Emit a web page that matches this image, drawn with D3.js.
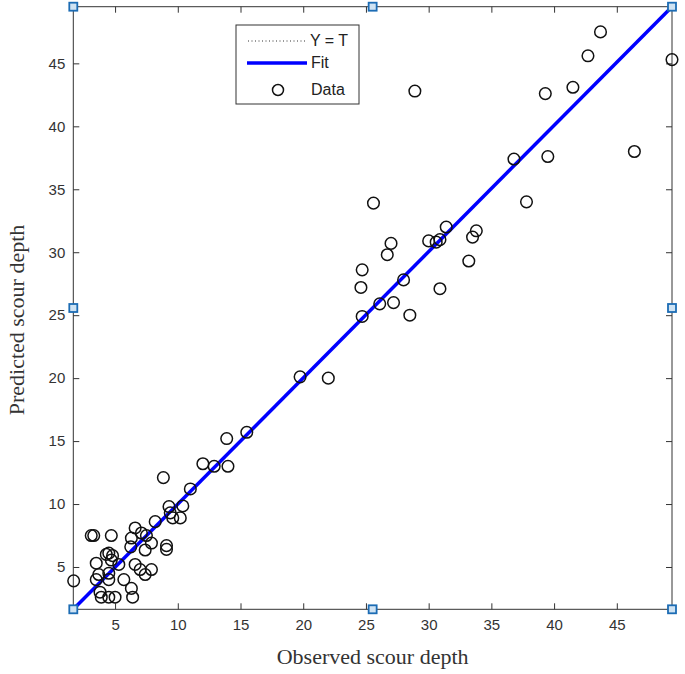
<!DOCTYPE html>
<html>
<head>
<meta charset="utf-8">
<script src="https://cdn.jsdelivr.net/npm/d3@7"></script>
<style>
  body { margin: 0; background: #fff; }
  .tick text { font-family: "Liberation Sans", Arial, sans-serif; font-size: 15px; fill: #333; }
  .tick line { stroke: #333; }
</style>
</head>
<body>
<div id="plot"></div>
<script>
var width = 685;
var height = 674;

// plot frame in pixels
var left = 73.3, right = 672, top_ = 6.7, bottom = 609.3;

// axis limits
var x_domain = [1.67, 49.4];
var y_domain = [1.64, 49.5];
var tick_values = [5, 10, 15, 20, 25, 30, 35, 40, 45];

// observed (T) and predicted (Y) scour depth
var observed = [
  1.7, 3.1, 3.3, 4.7, 3.5, 4.3, 4.8, 4.5, 4.7, 5.3,
  3.5, 3.7, 4.5, 4.5, 5.7, 6.3, 3.8, 3.9, 4.5, 5.0,
  6.4, 6.6, 7.0, 7.4, 7.9, 6.25, 6.3, 6.6, 7.1, 7.5,
  7.4, 7.9, 8.2, 9.1, 9.1, 9.3, 10.4, 9.4, 9.6, 10.2,
  8.85, 11.0, 12.0, 12.9, 14.0, 13.9, 15.5, 19.75, 22.0,
  24.7, 26.1, 27.2, 28.5, 24.6, 24.7, 28.0, 26.7, 27.0, 25.6,
  30.9, 30.0, 30.6, 30.9, 31.4, 33.2, 33.5, 33.8, 36.8, 37.8,
  39.5, 39.3, 41.5, 42.7, 43.7, 49.4, 46.4, 28.9
];
var predicted = [
  3.9, 7.5, 7.5, 7.5, 5.3, 6.0, 5.9, 6.1, 5.55, 5.2,
  4.0, 4.4, 4.5, 4.0, 4.0, 3.3, 3.0, 2.6, 2.6, 2.6,
  2.6, 5.2, 4.8, 4.4, 4.8, 6.6, 7.3, 8.1, 7.7, 7.5,
  6.35, 6.9, 8.6, 6.7, 6.4, 9.8, 9.85, 9.3, 8.9, 8.9,
  12.1, 11.2, 13.2, 13.0, 13.0, 15.2, 15.7, 20.1, 20.0,
  24.9, 25.9, 26.0, 25.0, 27.2, 28.6, 27.8, 29.8, 30.7, 33.9,
  27.1, 30.9, 30.8, 31.0, 32.0, 29.3, 31.2, 31.7, 37.4, 34.0,
  37.6, 42.6, 43.1, 45.6, 47.5, 45.3, 38.0, 42.8
];

var legend_labels = ['Y = T', 'Fit', 'Data'];

var svg = d3.select('#plot')
  .append('svg')
  .attr('width', width)
  .attr('height', height);

var x_scale = d3.scaleLinear().domain(x_domain).range([left, right]);
var y_scale = d3.scaleLinear().domain(y_domain).range([bottom, top_]);

// frame
svg.append('rect')
  .attr('x', left).attr('y', top_)
  .attr('width', right - left).attr('height', bottom - top_)
  .attr('fill', 'none')
  .attr('stroke', '#333')
  .attr('stroke-width', 1);

// axes, ticks pointing inward
var x_axis = d3.axisBottom(x_scale).tickValues(tick_values).tickSizeInner(-6).tickSizeOuter(0).tickPadding(10);
var x_top = d3.axisTop(x_scale).tickValues(tick_values).tickSizeInner(-6).tickSizeOuter(0).tickFormat('');
var y_axis = d3.axisLeft(y_scale).tickValues(tick_values).tickSizeInner(-6).tickSizeOuter(0).tickPadding(8);
var y_right = d3.axisRight(y_scale).tickValues(tick_values).tickSizeInner(-6).tickSizeOuter(0).tickFormat('');

svg.append('g').attr('transform', 'translate(0,' + bottom + ')').call(x_axis).call(g => g.select('.domain').remove());
svg.append('g').attr('transform', 'translate(0,' + top_ + ')').call(x_top).call(g => g.select('.domain').remove());
svg.append('g').attr('transform', 'translate(' + left + ',0)').call(y_axis).call(g => g.select('.domain').remove());
svg.append('g').attr('transform', 'translate(' + right + ',0)').call(y_right).call(g => g.select('.domain').remove());

// axis titles
svg.append('text')
  .attr('x', (left + right) / 2)
  .attr('y', 664)
  .attr('text-anchor', 'middle')
  .attr('font-family', '"Liberation Serif", "Times New Roman", serif')
  .attr('font-size', 22)
  .attr('fill', '#333')
  .text('Observed scour depth');

svg.append('text')
  .attr('transform', 'translate(24,' + ((top_ + bottom) / 2 + 12) + ') rotate(-90)')
  .attr('text-anchor', 'middle')
  .attr('font-family', '"Liberation Serif", "Times New Roman", serif')
  .attr('font-size', 22)
  .attr('fill', '#333')
  .text('Predicted scour depth');

// Y = T (dotted) and fit line
var diag = [x_domain[0], x_domain[1]];
var line_gen = d3.line().x(d => x_scale(d)).y(d => y_scale(d));

svg.append('path')
  .datum(diag)
  .attr('d', line_gen)
  .attr('stroke', 'black')
  .attr('stroke-dasharray', '1,3')
  .attr('fill', 'none');

var fit = [[x_domain[0], y_domain[0]], [x_domain[1], y_domain[1]]];
svg.append('path')
  .datum(fit)
  .attr('d', d3.line().x(d => x_scale(d[0])).y(d => y_scale(d[1])))
  .attr('stroke', '#0000ff')
  .attr('stroke-width', 3.5)
  .attr('fill', 'none');

// data points
svg.selectAll('circle.data')
  .data(observed.map((d, i) => [d, predicted[i]]))
  .enter()
  .append('circle')
  .attr('class', 'data')
  .attr('cx', d => x_scale(d[0]))
  .attr('cy', d => y_scale(d[1]))
  .attr('r', 5.8)
  .attr('fill', 'none')
  .attr('stroke', '#111')
  .attr('stroke-width', 1.5);

// selection handles (corners and edge midpoints)
var hx = [left, (left + right) / 2, right];
var hy = [top_, (top_ + bottom) / 2, bottom];
var handles = [];
hx.forEach(function(a, i) {
  hy.forEach(function(b, j) {
    if (!(i == 1 && j == 1)) handles.push([a, b]);
  });
});
svg.selectAll('rect.handle')
  .data(handles)
  .enter()
  .append('rect')
  .attr('class', 'handle')
  .attr('x', d => d[0] - 4)
  .attr('y', d => d[1] - 4)
  .attr('width', 8)
  .attr('height', 8)
  .attr('fill', '#cfe3f3')
  .attr('stroke', '#1c6cb4')
  .attr('stroke-width', 1.8);

// legend
var lg = svg.append('g').attr('transform', 'translate(236,25)');
lg.append('rect')
  .attr('width', 123).attr('height', 79)
  .attr('fill', 'white')
  .attr('stroke', '#333')
  .attr('stroke-width', 1);

var rows = [16, 38, 65];
lg.append('line')
  .attr('x1', 12).attr('x2', 71).attr('y1', rows[0]).attr('y2', rows[0])
  .attr('stroke', '#333').attr('stroke-dasharray', '1,2.5');
lg.append('line')
  .attr('x1', 11).attr('x2', 71).attr('y1', rows[1]).attr('y2', rows[1])
  .attr('stroke', '#0000ff').attr('stroke-width', 3.5);
lg.append('circle')
  .attr('cx', 42).attr('cy', rows[2]).attr('r', 5.5)
  .attr('fill', 'none').attr('stroke', '#111').attr('stroke-width', 1.5);

lg.selectAll('text.leg')
  .data(legend_labels)
  .enter()
  .append('text')
  .attr('class', 'leg')
  .attr('x', (d, i) => i == 0 ? 74 : 75)
  .attr('y', (d, i) => rows[i] + 5)
  .attr('font-family', '"Liberation Sans", Arial, sans-serif')
  .attr('font-size', 16)
  .attr('fill', '#222')
  .text(d => d);
</script>
</body>
</html>
